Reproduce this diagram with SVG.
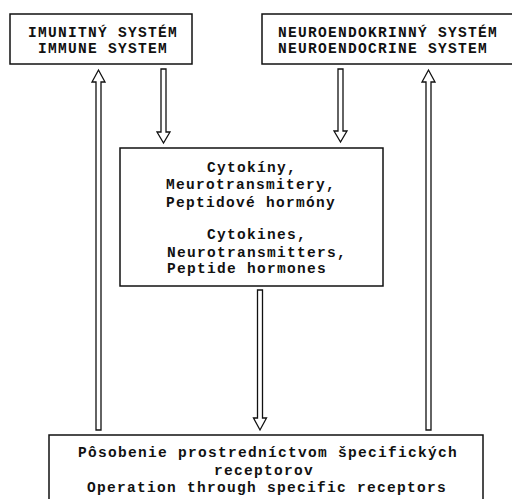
<svg xmlns="http://www.w3.org/2000/svg" width="512" height="499" viewBox="0 0 512 499">
<style>
.box{fill:#fff;stroke:#111;stroke-width:1.5}
.arr{fill:#fff;stroke:#111;stroke-width:1.3;stroke-linejoin:miter}
text{font-family:"Liberation Mono","Courier New",monospace;font-weight:bold;font-size:14.5px;letter-spacing:1.3px;fill:#111}
.c{text-anchor:middle}
</style>
<rect width="512" height="499" fill="#fff"/>
<g id="immune">
<rect class="box" x="10" y="14" width="182" height="50"/>
<text class="c" x="103" y="37">IMUNITNÝ SYSTÉM</text>
<text class="c" x="103" y="53">IMMUNE SYSTEM</text>
</g>
<g id="neuro">
<rect class="box" x="262" y="14" width="260" height="50"/>
<text x="278" y="37">NEUROENDOKRINNÝ SYSTÉM</text>
<text x="278" y="53">NEUROENDOCRINE SYSTEM</text>
</g>
<g id="mediators">
<rect class="box" x="120" y="148" width="263" height="138"/>
<text x="207" y="172">Cytokíny,</text>
<text x="166" y="189">Meurotransmitery,</text>
<text x="166" y="207">Peptidové hormóny</text>
<text x="207" y="239">Cytokines,</text>
<text x="167" y="257">Neurotransmitters,</text>
<text x="167" y="273">Peptide hormones</text>
</g>
<g id="receptors">
<rect class="box" x="49" y="435" width="434" height="70"/>
<text class="c" x="268" y="457">Pôsobenie prostredníctvom špecifických</text>
<text class="c" x="264" y="475">receptorov</text>
<text class="c" x="267" y="492">Operation through specific receptors</text>
</g>
<g id="connectors">
<path class="arr" d="M96,430 L96,82 L92,82 L98.5,70 L105,82 L101,82 L101,430 Z"/>
<path class="arr" d="M161,69 L161,132 L157,132 L163.5,143 L170,132 L166,132 L166,69 Z"/>
<path class="arr" d="M338,69 L338,131 L334,131 L340.5,142 L347,131 L343,131 L343,69 Z"/>
<path class="arr" d="M426,430 L426,82 L422,82 L428.5,70 L435,82 L431,82 L431,430 Z"/>
<path class="arr" d="M257.5,290 L257.5,418 L253.5,418 L260,430 L266.5,418 L262.5,418 L262.5,290 Z"/>
</g>
</svg>
